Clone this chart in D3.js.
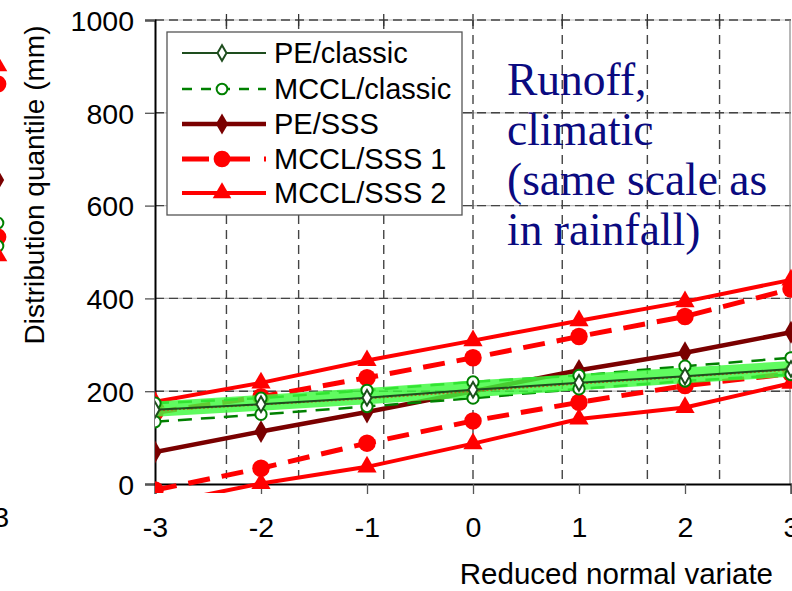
<!DOCTYPE html>
<html>
<head>
<meta charset="utf-8">
<script src="https://cdn.jsdelivr.net/npm/d3@7"></script>
<style>
  html, body { margin: 0; padding: 0; background: #fff; overflow: hidden; }
  svg { display: block; }
</style>
</head>
<body>
<svg id="chart" width="792" height="591"></svg>
<script>
// ---------- data ----------
const xValues = [-3, -2, -1, 0, 1, 2, 3];
const xTickLabels = ["-3", "-2", "-1", "0", "1", "2", "3"];
const yTicks = [0, 200, 400, 600, 800, 1000];
// reduced normal variates of the probability grid (1%, 5%, 20%, 50%, 80%, 95%, 99%)
const gridVariates = [-2.326, -1.645, -0.842, 0, 0.842, 1.645, 2.326];

const peClassic      = [160, 172, 186, 203, 218, 232, 248];
const mcclClassicUp  = [174, 185, 202, 220, 234, 254, 272];
const mcclClassicLo  = [134, 150, 167, 185, 205, 222, 236];
const peSSS          = [69, 113, 155, 200, 245, 283, 327];
const mcclSSS1Up     = [154, 188, 229, 272, 318, 361, 420];
const mcclSSS1Lo     = [-13, 34, 88, 136, 176, 212, 238];
const mcclSSS2Up     = [177, 218, 266, 309, 352, 393, 440];
const mcclSSS2Lo     = [-45, 1, 37, 87, 140, 165, 217];
const bandLow        = [145, 158, 172, 187, 202, 217, 231];
const bandHigh       = [178, 192, 207, 223, 237, 251, 265];
const bandMid        = [158, 171, 184, 200, 216, 231, 246];

const legendLabels = ["PE/classic", "MCCL/classic", "PE/SSS", "MCCL/SSS 1", "MCCL/SSS 2"];
const noteLines = ["Runoff,", "climatic", "(same scale as", "in rainfall)"];

// ---------- layout ----------
const svg = d3.select("#chart");
const L = 155, R = 791, T = 20, B = 484;
const x = d3.scaleLinear().domain([-3, 3]).range([L, R]);
const y = d3.scaleLinear().domain([0, 1000]).range([B, T]);
const font = "'Liberation Sans', Arial, sans-serif";

svg.append("defs").append("clipPath").attr("id", "clip")
  .append("rect").attr("x", L).attr("y", T).attr("width", R - L + 2).attr("height", (B - T) + 9);

// ---------- grid ----------
const grid = svg.append("g");
grid.selectAll("line.h").data(yTicks.filter(d => d > 0)).join("line")
  .attr("x1", L).attr("x2", R).attr("y1", d => y(d)).attr("y2", d => y(d))
  .attr("stroke", "#bbb").attr("stroke-width", 1.2);
grid.selectAll("line.hd").data(yTicks.filter(d => d > 0)).join("line")
  .attr("x1", L).attr("x2", R).attr("y1", d => y(d)).attr("y2", d => y(d))
  .attr("stroke", "#444").attr("stroke-width", 1.4).attr("stroke-dasharray", "9,5");
grid.selectAll("line.v").data(gridVariates).join("line")
  .attr("x1", d => x(d)).attr("x2", d => x(d)).attr("y1", T).attr("y2", B)
  .attr("stroke", "#444").attr("stroke-width", 1.4).attr("stroke-dasharray", "9,6");
grid.selectAll("line.tt").data(gridVariates).join("line")
  .attr("x1", d => x(d)).attr("x2", d => x(d)).attr("y1", T - 6).attr("y2", T + 6)
  .attr("stroke", "#333").attr("stroke-width", 1.3);
svg.append("line").attr("x1", R - 1).attr("x2", R - 1).attr("y1", T).attr("y2", B)
  .attr("stroke", "#888").attr("stroke-width", 1.2);

// ---------- axes ----------
const yAxis = d3.axisLeft(y).tickValues(yTicks).tickSize(10).tickFormat(d3.format("d"));
const gy = svg.append("g").attr("transform", `translate(${L},0)`).call(yAxis);
gy.select(".domain").attr("stroke", "#000").attr("stroke-width", 2);
gy.selectAll(".tick line").attr("stroke", "#555").attr("stroke-width", 1.3);
gy.selectAll(".tick text").attr("font-family", font).attr("font-size", 28.5)
  .attr("fill", "#000").attr("x", -21).attr("dy", "0.36em");

const xAxis = d3.axisBottom(x).tickValues(xValues).tickSize(10)
  .tickFormat((d, i) => xTickLabels[i]);
const gx = svg.append("g").attr("transform", `translate(0,${B})`).call(xAxis);
gx.select(".domain").attr("stroke", "#000").attr("stroke-width", 2);
gx.selectAll(".tick line").attr("stroke", "#555").attr("stroke-width", 1.3);
gx.selectAll(".tick text").attr("font-family", font).attr("font-size", 28.5)
  .attr("fill", "#000").attr("y", 33);

// axis titles
svg.append("text").attr("x", 773).attr("y", 584).attr("text-anchor", "end")
  .attr("font-family", font).attr("font-size", 29.5).text("Reduced normal variate");
svg.append("text").attr("transform", "translate(44,185) rotate(-90)")
  .attr("text-anchor", "middle").attr("font-family", font).attr("font-size", 28)
  .text("Distribution quantile (mm)");

// ---------- series ----------
const plot = svg.append("g").attr("clip-path", "url(#clip)");
const lineGen = d3.line().x((d, i) => x(xValues[i])).y(d => y(d));

function symType(kind) {
  return kind === "circle" ? d3.symbolCircle : kind === "diamond" ? d3.symbolDiamond : d3.symbolTriangle;
}
function drawLine(g, data, color, width, dash) {
  g.append("path").datum(data).attr("d", lineGen).attr("fill", "none")
    .attr("stroke", color).attr("stroke-width", width)
    .attr("stroke-dasharray", dash || null).attr("stroke-linejoin", "round");
}
function drawMarkers(g, data, kind, color, size, open) {
  const sel = g.append("g").selectAll("path").data(data).join("path")
    .attr("transform", (d, i) => `translate(${x(xValues[i])},${y(d)})`)
    .attr("d", d3.symbol().type(symType(kind)).size(size));
  if (open) sel.attr("fill", "#fff").attr("stroke", color).attr("stroke-width", 2);
  else sel.attr("fill", color).attr("stroke", "none");
}

const SSS1 = "#ff0000", SSS2 = "#ff0000", PESSS = "#7a0000";
const PEC = "#1e4d1e", MCC = "#008000";

drawLine(plot, mcclSSS2Up, SSS2, 4);
drawLine(plot, mcclSSS2Lo, SSS2, 4);
drawLine(plot, mcclSSS1Up, SSS1, 5, "22,12");
drawLine(plot, mcclSSS1Lo, SSS1, 5, "22,12");
drawLine(plot, peSSS, PESSS, 4.5);

drawMarkers(plot, mcclSSS2Up, "triangle", SSS2, 160);
drawMarkers(plot, mcclSSS2Lo, "triangle", SSS2, 160);
drawMarkers(plot, mcclSSS1Up, "circle", SSS1, 240);
drawMarkers(plot, mcclSSS1Lo, "circle", SSS1, 240);
drawMarkers(plot, peSSS, "diamond", PESSS, 150);

// classic dashed lines below the band
drawLine(plot, mcclClassicUp, MCC, 2.5, "14,9");
drawLine(plot, mcclClassicLo, MCC, 2.5, "14,9");

// green band
const area = d3.area().x((d, i) => x(xValues[i])).y0(d => y(d[0])).y1(d => y(d[1]));
plot.append("path").datum(bandLow.map((v, i) => [v, bandHigh[i]]))
  .attr("d", area).attr("fill", "#3dfa3d").attr("opacity", 0.82);
drawLine(plot, bandMid, "#b8651b", 1.6, "2,2");

drawLine(plot, peClassic, PEC, 2);
drawMarkers(plot, mcclClassicUp, "circle", MCC, 100, true);
drawMarkers(plot, mcclClassicLo, "circle", MCC, 100, true);
drawMarkers(plot, peClassic, "diamond", PEC, 70, true);

// ---------- legend ----------
const lg = svg.append("g");
lg.append("rect").attr("x", 167).attr("y", 32).attr("width", 295).attr("height", 183)
  .attr("fill", "#fff").attr("stroke", "#555").attr("stroke-width", 1.3);
const legendStyles = [
  { color: PEC, w: 2, dash: null, kind: "diamond", size: 70, open: true },
  { color: MCC, w: 2.5, dash: "10,9", kind: "circle", size: 90, open: true },
  { color: PESSS, w: 4.5, dash: null, kind: "diamond", size: 130, open: false },
  { color: SSS1, w: 5, dash: "27,14", kind: "circle", size: 220, open: false },
  { color: SSS2, w: 4, dash: null, kind: "triangle", size: 150, open: false }
];
const rowY = [53, 89, 124, 159, 193];
legendLabels.forEach((lab, i) => {
  const s = legendStyles[i];
  lg.append("line").attr("x1", 182).attr("x2", 266).attr("y1", rowY[i]).attr("y2", rowY[i])
    .attr("stroke", s.color).attr("stroke-width", s.w).attr("stroke-dasharray", s.dash);
  const m = lg.append("path").attr("d", d3.symbol().type(symType(s.kind)).size(s.size)())
    .attr("transform", `translate(222,${rowY[i]})`);
  if (s.open) m.attr("fill", "#fff").attr("stroke", s.color).attr("stroke-width", 2);
  else m.attr("fill", s.color);
  lg.append("text").attr("x", 274).attr("y", rowY[i]).attr("dy", "0.36em")
    .attr("font-family", font).attr("font-size", 29).text(lab);
});

// ---------- annotation ----------
svg.append("g").selectAll("text").data(noteLines).join("text")
  .attr("x", 507).attr("y", (d, i) => 95 + i * 50)
  .attr("font-family", "'Liberation Serif', 'Times New Roman', serif")
  .attr("font-size", 45.5).attr("fill", "#0a0a80").text(d => d);

// ---------- fragments of the neighbouring chart (cropped at the left edge) ----------
const frag = svg.append("g");
const fragItems = [
  { y: 66, kind: "triangle", color: "#ff0000", size: 150, open: false },
  { y: 84, kind: "circle", color: "#ff0000", size: 220, open: false },
  { y: 180, kind: "diamond", color: "#7a0000", size: 130, open: false },
  { y: 223, kind: "circle", color: "#008000", size: 90, open: true },
  { y: 237, kind: "circle", color: "#ff0000", size: 220, open: false },
  { y: 246, kind: "circle", color: "#008000", size: 90, open: true },
  { y: 256, kind: "triangle", color: "#ff0000", size: 150, open: false }
];
fragItems.forEach(f => {
  const m = frag.append("path").attr("d", d3.symbol().type(symType(f.kind)).size(f.size)())
    .attr("transform", `translate(-2,${f.y})`);
  if (f.open) m.attr("fill", "#fff").attr("stroke", f.color).attr("stroke-width", 2);
  else m.attr("fill", f.color);
});
frag.append("text").attr("x", 9).attr("y", 527).attr("text-anchor", "end")
  .attr("font-family", font).attr("font-size", 28).text("3");
</script>
</body>
</html>
